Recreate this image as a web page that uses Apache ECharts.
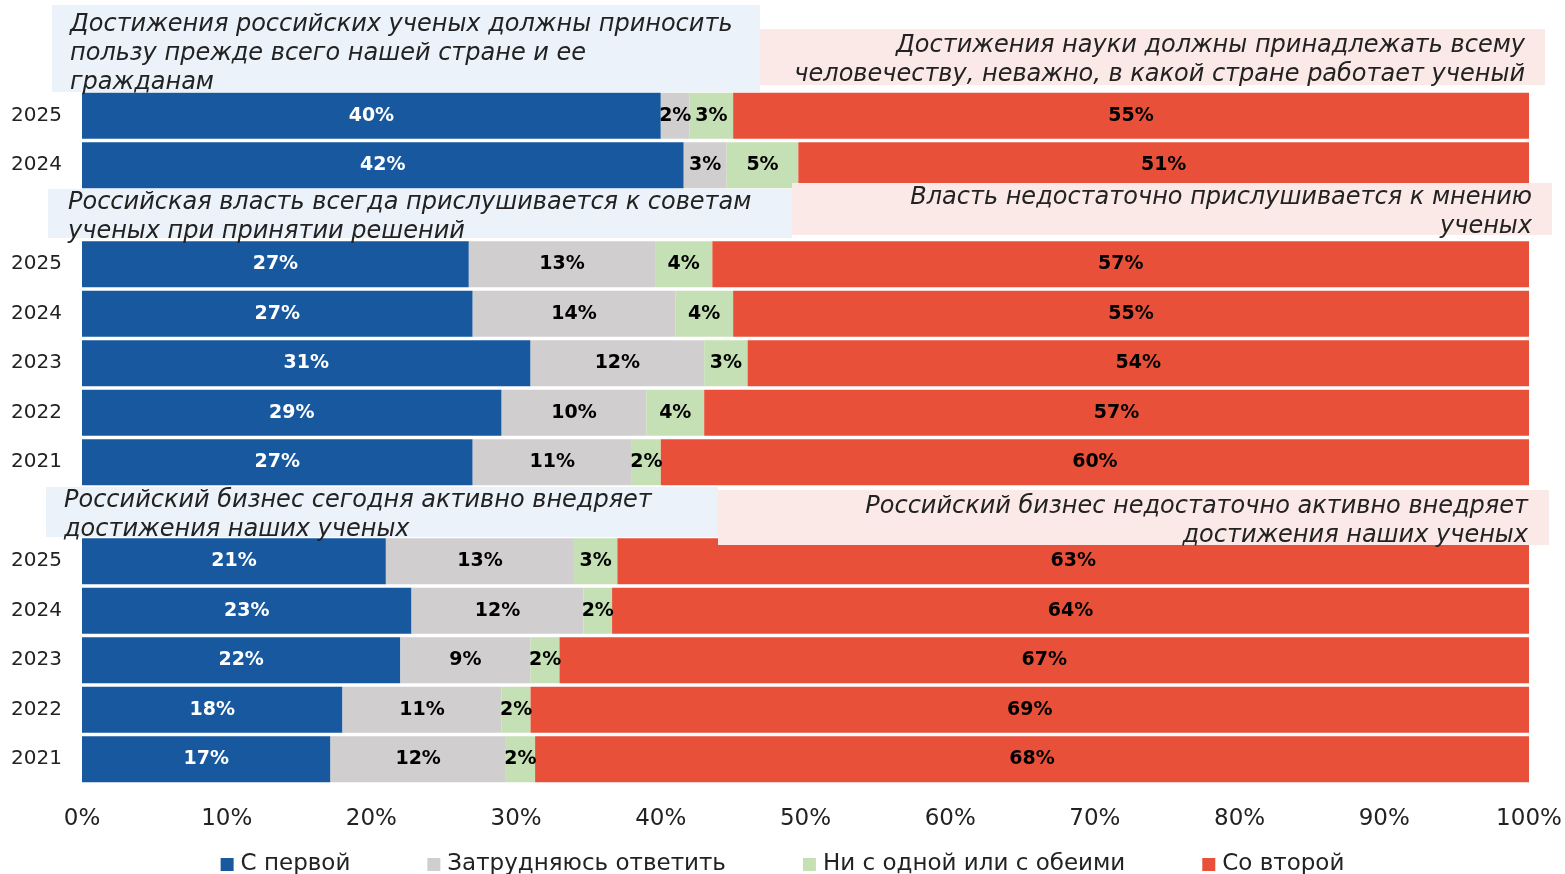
<!DOCTYPE html>
<html>
<head>
<meta charset="utf-8">
<script src="https://cdn.jsdelivr.net/npm/echarts@6/dist/echarts.min.js"></script>
<style>
html,body{margin:0;padding:0;background:#fff;}
#c{width:1565px;height:874px;}
</style>
</head>
<body>
<div id="c"></div>
<script>
// ---- data ----
const rowLabels = ['2025','2024','','2025','2024','2023','2022','2021','','2025','2024','2023','2022','2021'];
const seriesNames = ['С первой','Затрудняюсь ответить','Ни с одной или с обеими','Со второй'];
const firstVals   = [40,42,null,27,27,31,29,27,null,21,23,22,18,17];
const unsureVals  = [2,3,null,13,14,12,10,11,null,13,12,9,11,12];
const neitherVals = [3,5,null,4,4,3,4,2,null,3,2,2,2,2];
const secondVals  = [55,51,null,57,55,54,57,60,null,63,64,67,69,68];
const xTicks = [0,10,20,30,40,50,60,70,80,90,100];
const leftStatements = [
  ['Достижения российских ученых должны приносить','пользу прежде всего нашей стране и ее','гражданам'],
  ['Российская власть всегда прислушивается к советам','ученых при принятии решений'],
  ['Российский бизнес сегодня активно внедряет','достижения наших ученых']
];
const rightStatements = [
  ['Достижения науки должны принадлежать всему','человечеству, неважно, в какой стране работает ученый'],
  ['Власть недостаточно прислушивается к мнению','ученых'],
  ['Российский бизнес недостаточно активно внедряет','достижения наших ученых']
];

const colors = ['#17589f','#d0cece','#c5e0b4','#e8503a'];
const labelColors = ['#ffffff','#000000','#000000','#000000'];
const allVals = [firstVals, unsureVals, neitherVals, secondVals];

const rowSums = rowLabels.map((_, i) => allVals.reduce((s, a) => s + (a[i] || 0), 0));

const FONT = "'DejaVu Sans', sans-serif";

const series = allVals.map((arr, si) => ({
  name: seriesNames[si],
  type: 'bar',
  stack: 'total',
  barCategoryGap: '7%',
  itemStyle: { color: colors[si] },
  label: {
    show: true,
    position: 'inside',
    color: labelColors[si],
    fontFamily: FONT,
    fontWeight: 'bold',
    fontSize: 19,
    formatter: p => arr[p.dataIndex] == null ? '' : arr[p.dataIndex] + '%'
  },
  emphasis: { disabled: true },
  data: arr.map((v, i) => v == null ? '-' : v / rowSums[i] * 100)
}));

const chart = echarts.init(document.getElementById('c'));

function boxes() {
  const g = [];
  const mk = (x, y, w, h, fill, lines, align, tx, ty) => {
    g.push({ type: 'rect', shape: { x, y, width: w, height: h }, style: { fill }, z: 10 });
    g.push({
      type: 'text', z: 11,
      style: {
        text: lines.join('\n'), x: tx, y: ty,
        align: align, verticalAlign: 'top',
        font: 'italic 24px ' + FONT,
        fill: '#222222', lineHeight: 29
      }
    });
  };
  const blue = '#ebf2f9', pink = '#fbe9e7';
  mk(52, 5, 708, 87, blue, leftStatements[0], 'left', 70, 10);
  mk(760, 29, 785, 56, pink, rightStatements[0], 'right', 1525, 31);
  mk(48, 189, 744, 49, blue, leftStatements[1], 'left', 68, 188);
  mk(792, 183, 760, 52, pink, rightStatements[1], 'right', 1532, 183);
  mk(46, 487, 672, 50, blue, leftStatements[2], 'left', 64, 486);
  mk(718, 490, 831, 55, pink, rightStatements[2], 'right', 1528, 492);
  return g;
}

chart.setOption({
  animation: false,
  grid: { left: 82, right: 36, top: 91, bottom: 90, containLabel: false },
  legend: {
    top: 848,
    left: 'center',
    itemWidth: 13, itemHeight: 13, itemGap: 77,
    icon: 'rect',
    textStyle: { fontFamily: FONT, fontSize: 23, color: '#222222', padding: [0,0,0,2] },
    data: seriesNames
  },
  xAxis: {
    type: 'value', min: 0, max: 100, interval: 10,
    axisLabel: { formatter: v => v + '%', fontFamily: FONT, fontSize: 23, color: '#222222', margin: 24 },
    splitLine: { show: false },
    axisLine: { show: false },
    axisTick: { show: false }
  },
  yAxis: {
    type: 'category', inverse: true, data: rowLabels,
    axisLabel: { fontFamily: FONT, fontSize: 20, color: '#222222', margin: 20 },
    axisLine: { show: false },
    axisTick: { show: false }
  },
  series: series,
  graphic: boxes()
});
</script>
</body>
</html>
